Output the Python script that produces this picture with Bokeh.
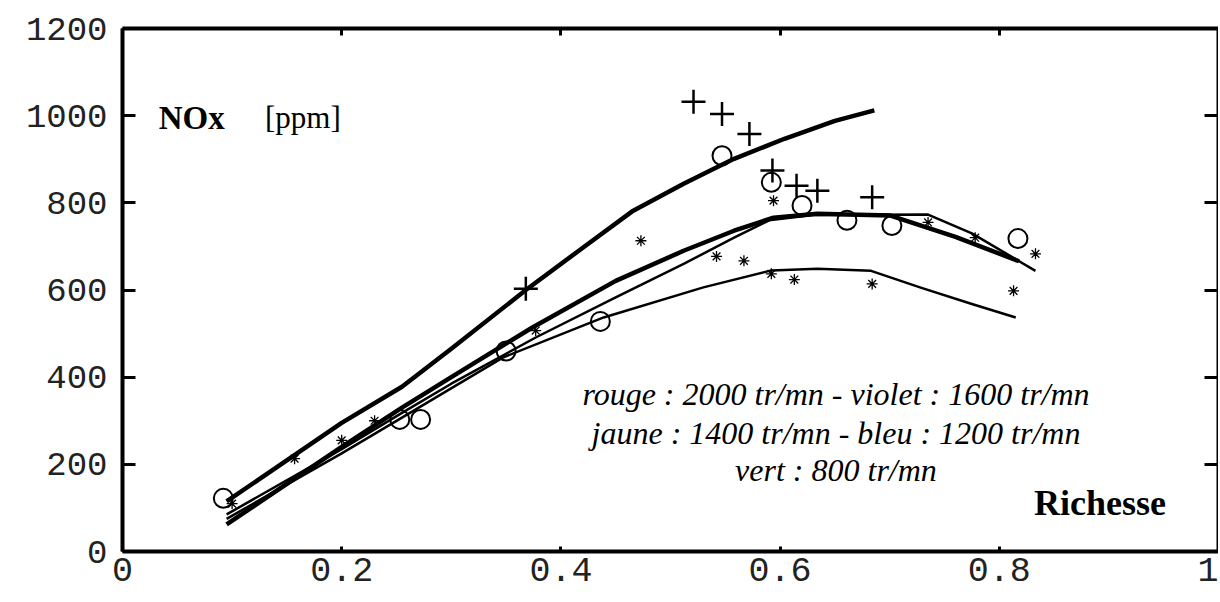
from bokeh.plotting import figure
from bokeh.models import Range1d, LinearAxis, FixedTicker, Label
from bokeh.embed import file_html
from bokeh.resources import INLINE

# ---------------- data ----------------
x_ticks = [0, 0.2, 0.4, 0.6, 0.8, 1]
x_tick_labels = ["0", "0.2", "0.4", "0.6", "0.8", "1"]
y_ticks = [0, 200, 400, 600, 800, 1000, 1200]
y_tick_labels = ["0", "200", "400", "600", "800", "1000", "1200"]

# fitted curves
rouge_x = [0.095, 0.2, 0.255, 0.3, 0.368, 0.42, 0.466, 0.512, 0.558, 0.604, 0.65, 0.686]
rouge_y = [115, 295, 378, 465, 600, 697, 782, 844, 901, 947, 988, 1012]

violet_x = [0.095, 0.2, 0.255, 0.3, 0.374, 0.45, 0.512, 0.558, 0.594, 0.634, 0.7, 0.76, 0.818]
violet_y = [62, 240, 330, 400, 514, 621, 690, 736, 766, 775, 771, 722, 666]

jaune_x = [0.095, 0.2, 0.255, 0.3, 0.377, 0.45, 0.512, 0.558, 0.59, 0.63, 0.735, 0.775, 0.833]
jaune_y = [85, 235, 318, 385, 491, 583, 660, 720, 760, 772, 773, 730, 644]

bleu_x = [0.095, 0.2, 0.255, 0.347, 0.439, 0.53, 0.592, 0.634, 0.683, 0.729, 0.775, 0.815]
bleu_y = [75, 225, 307, 445, 537, 606, 645, 649, 644, 605, 568, 537]

# measured points
plus_x = [0.368, 0.521, 0.547, 0.572, 0.593, 0.615, 0.634, 0.684]
plus_y = [603, 1032, 1004, 958, 874, 839, 828, 813]

circle_x = [0.092, 0.253, 0.272, 0.35, 0.436, 0.547, 0.592, 0.62, 0.661, 0.702, 0.817]
circle_y = [122, 303, 303, 460, 528, 908, 847, 794, 760, 748, 718]

star_x = [0.1, 0.157, 0.2, 0.23, 0.377, 0.473, 0.542, 0.567, 0.594, 0.592, 0.613, 0.684, 0.735, 0.778, 0.813, 0.833]
star_y = [110, 213, 255, 300, 507, 713, 677, 667, 805, 637, 624, 614, 755, 720, 598, 683]

# ---------------- figure ----------------
p = figure(width=1218, height=600, output_backend="svg", toolbar_location=None,
           x_range=Range1d(0, 1), y_range=Range1d(0, 1200),
           min_border_left=122, min_border_right=0, min_border_top=28, min_border_bottom=49)
p.outline_line_color = None
p.xgrid.visible = False
p.ygrid.visible = False
p.background_fill_color = "white"
p.border_fill_color = "white"

TICKFONT = "Liberation Mono"

xa = p.xaxis[0]
xa.ticker = FixedTicker(ticks=x_ticks)
xa.major_label_overrides = dict(zip(x_ticks, x_tick_labels))
xa.major_label_text_font = TICKFONT
xa.major_label_text_font_size = "35px"
xa.major_label_text_color = "#222222"
xa.major_label_standoff = 6
xa.axis_line_width = 4
xa.major_tick_in = 5
xa.major_tick_out = 0
xa.major_tick_line_width = 3
xa.minor_tick_line_color = None

ya = p.yaxis[0]
ya.ticker = FixedTicker(ticks=y_ticks)
ya.major_label_overrides = dict(zip(y_ticks, y_tick_labels))
ya.major_label_text_font = TICKFONT
ya.major_label_text_font_size = "34px"
ya.major_label_text_color = "#222222"
ya.major_label_standoff = 15
ya.axis_line_width = 4
ya.major_tick_in = 13
ya.major_tick_out = 0
ya.major_tick_line_width = 3
ya.minor_tick_line_color = None

top = LinearAxis(ticker=FixedTicker(ticks=x_ticks), major_label_text_font_size="0px",
                 major_label_text_color=None, major_label_standoff=0,
                 axis_line_width=4, major_tick_in=7, major_tick_out=0,
                 major_tick_line_width=3, minor_tick_line_color=None)
p.add_layout(top, "above")
right = LinearAxis(ticker=FixedTicker(ticks=y_ticks), major_label_text_font_size="0px",
                   major_label_text_color=None, major_label_standoff=0,
                   axis_line_width=4, major_tick_in=14, major_tick_out=0,
                   major_tick_line_width=3, minor_tick_line_color=None)
p.add_layout(right, "right")

# curves
p.line(rouge_x, rouge_y, line_color="black", line_width=4.5, line_join="round")
p.line(violet_x, violet_y, line_color="black", line_width=4.5, line_join="round")
p.line(jaune_x, jaune_y, line_color="black", line_width=2.5, line_join="round")
p.line(bleu_x, bleu_y, line_color="black", line_width=2.5, line_join="round")

# points
p.scatter(plus_x, plus_y, marker="cross", size=24, line_color="black", line_width=2.5)
p.scatter(circle_x, circle_y, marker="circle", size=19, line_color="black",
          line_width=2, fill_color=None)
p.scatter(star_x, star_y, marker="asterisk", size=11, line_color="black", line_width=1.3)

# texts
p.add_layout(Label(x=0.033, y=995, text="NOx", text_font="Liberation Serif",
                   text_font_style="bold", text_font_size="33px", text_color="black",
                   text_baseline="alphabetic"))
p.add_layout(Label(x=0.13, y=995, text="[ppm]", text_font="Liberation Serif",
                   text_font_size="31px", text_color="black", text_baseline="alphabetic"))

notes = ["rouge : 2000 tr/mn - violet : 1600 tr/mn",
         "jaune : 1400 tr/mn - bleu : 1200 tr/mn",
         "vert : 800 tr/mn"]
note_y = [362, 273, 186]
for t, yy in zip(notes, note_y):
    p.add_layout(Label(x=0.651, y=yy, text=t, text_font="Liberation Serif",
                       text_font_style="italic", text_font_size="32px", text_color="black",
                       text_align="center", text_baseline="middle"))

p.add_layout(Label(x=0.952, y=112, text="Richesse", text_font="Liberation Serif",
                   text_font_style="bold", text_font_size="36px", text_color="black",
                   text_align="right", text_baseline="middle"))

open("out.html", "w").write(file_html(p, INLINE))
